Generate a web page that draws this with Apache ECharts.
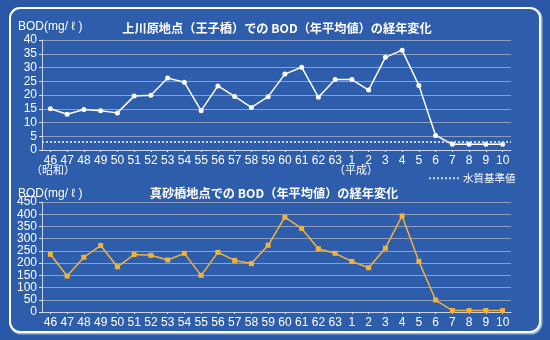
<!DOCTYPE html>
<html><head><meta charset="utf-8">
<script src="https://cdn.jsdelivr.net/npm/echarts@6/dist/echarts.min.js"></script>
<style>html,body{margin:0;padding:0;background:#2b58a6;}#c{width:550px;height:340px;}</style>
</head><body><div id="c"></div>
<script>
const categories = ['46','47','48','49','50','51','52','53','54','55','56','57','58','59','60','61','62','63','1','2','3','4','5','6','7','8','9','10'];
const bodKamikawara = [15.0,13.0,14.7,14.3,13.5,19.6,19.9,26.2,24.6,14.3,23.3,19.5,15.5,19.4,27.6,30.1,19.2,25.6,25.6,21.8,33.7,36.3,23.5,5.3,2.1,2.1,2.1,2.1];
const bodMasago = [236,147,224,272,185,235,232,213,240,150,244,211,198,273,388,342,259,240,207,181,261,393,207,49,6,6,6,6];
const standardValue = 3;
const topTicks = {min:0, max:40, interval:5};
const bottomTicks = {min:0, max:450, interval:50};

const chart = echarts.init(document.getElementById('c'));
const FONT = '"Liberation Sans", Arial, sans-serif';
const JP = '"Noto Sans CJK JP", sans-serif';
const gridColor = '#8f9fbf';
const axisColor = '#c8d2e6';
function xAxisCfg(gi){
  return {type:'category', gridIndex:gi, data:categories, boundaryGap:true,
    axisLine:{show:true, lineStyle:{color:axisColor, width:1}},
    axisTick:{show:true, alignWithLabel:true, length:2, lineStyle:{color:'#e0e6f2'}},
    axisLabel:{interval:0, color:'#ffffff', fontFamily:FONT, fontSize:12, margin:5}};
}
function yAxisCfg(gi, t){
  return {type:'value', gridIndex:gi, min:t.min, max:t.max, interval:t.interval,
    axisLine:{show:true, lineStyle:{color:axisColor, width:1}},
    axisTick:{show:true, length:3, lineStyle:{color:'#e0e6f2'}},
    splitLine:{show:true, lineStyle:{color:gridColor, width:1}},
    axisLabel:{color:'#ffffff', fontFamily:FONT, fontSize:12, margin:5}};
}
chart.setOption({
  backgroundColor:'#2b58a6',
  animation:false,
  graphic:[
    {type:'rect', shape:{x:11, y:9, width:530, height:324, r:10}, style:{fill:'none', stroke:'#8fb0e0', lineWidth:3}, z:-1},
    {type:'rect', shape:{x:10, y:8, width:530, height:324, r:10}, style:{fill:'#2e5dab', stroke:'#ffffff', lineWidth:2}, z:-1},
    {type:'text', left:31, top:164, style:{text:'（昭和）', fill:'#ffffff', font:'11px "Noto Sans CJK JP"'}},
    {type:'text', left:334, top:164, style:{text:'（平成）', fill:'#ffffff', font:'11px "Noto Sans CJK JP"'}}
  ],
  title:[
    {text:'上川原地点（王子橋）での BOD（年平均値）の経年変化', left:272, top:17, textAlign:'center',
     textStyle:{color:'#ffffff', fontFamily:JP, fontSize:12.2, fontWeight:'bold'}},
    {text:'真砂橋地点での BOD（年平均値）の経年変化', left:269, top:182, textAlign:'center',
     textStyle:{color:'#ffffff', fontFamily:JP, fontSize:12.2, fontWeight:'bold'}},
    {text:'BOD(mg/ ℓ )', left:13, top:16, textStyle:{color:'#ffffff', fontFamily:FONT, fontSize:12, fontWeight:'normal'}},
    {text:'BOD(mg/ ℓ )', left:13, top:183, textStyle:{color:'#ffffff', fontFamily:FONT, fontSize:12, fontWeight:'normal'}}
  ],
  legend:{data:['水質基準値'], left:428, top:173, padding:0, itemWidth:32, itemHeight:8, itemGap:4,
    itemStyle:{opacity:0},
    textStyle:{color:'#ffffff', fontFamily:JP, fontSize:10.5, padding:[0,0,0,-3]}},
  grid:[
    {left:42, right:39, top:40, height:110},
    {left:42, right:39, top:202, height:110}
  ],
  xAxis:[xAxisCfg(0), xAxisCfg(1)],
  yAxis:[yAxisCfg(0, topTicks), yAxisCfg(1, bottomTicks)],
  series:[
    {name:'上川原', type:'line', xAxisIndex:0, yAxisIndex:0, data:bodKamikawara,
     symbol:'circle', symbolSize:5, lineStyle:{color:'#ffffff', width:1.5}, itemStyle:{color:'#ffffff'}, z:3},
    {name:'水質基準値', type:'line', xAxisIndex:0, yAxisIndex:0, data:[], symbol:'none',
     lineStyle:{color:'#c8d6f0', type:'dotted', width:2}, itemStyle:{color:'#c8d6f0'},
     markLine:{silent:true, symbol:'none', label:{show:false},
       lineStyle:{color:'#c8d6f0', type:'dotted', width:2},
       data:[{yAxis:standardValue}]}},
    {name:'真砂橋', type:'line', xAxisIndex:1, yAxisIndex:1, data:bodMasago,
     symbol:'rect', symbolSize:5, lineStyle:{color:'#f2b33a', width:1.5}, itemStyle:{color:'#f2b33a'}, z:3}
  ]
});
</script></body></html>
